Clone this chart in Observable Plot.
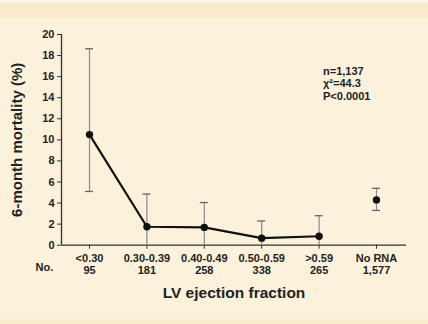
<!DOCTYPE html>
<html>
<head>
<meta charset="utf-8">
<script src="https://cdn.jsdelivr.net/npm/d3@7"></script>
<script src="https://cdn.jsdelivr.net/npm/@observablehq/plot@0.6"></script>
<style>
  html, body { margin: 0; padding: 0; }
  body {
    width: 428px; height: 324px; overflow: hidden;
    background: linear-gradient(to bottom, #fdf5e4 0px, #fdf5e4 3px, #f9ebcb 3px, #f9ebcb 18px, #fcf2dc 18px, #fcf2dc 319px, #f9edcf 319px);
    font-family: "Liberation Sans", Arial, sans-serif;
  }
  svg { display: block; }
</style>
</head>
<body>
<div id="chart"></div>
<script>
const categories = ["<0.30", "0.30-0.39", "0.40-0.49", "0.50-0.59", ">0.59", "No RNA"];
const counts = ["95", "181", "258", "338", "265", "1,577"];
const mortality = [10.5, 1.75, 1.69, 0.67, 0.85, 4.3];
const upper = [18.65, 4.85, 4.05, 2.3, 2.8, 5.4];
const lower = [5.1, 0, 0, 0, 0, 3.3];
const connected = [true, true, true, true, true, false];
const yTicks = [0, 2, 4, 6, 8, 10, 12, 14, 16, 18, 20];
const statsText = ["n=1,137", "χ²=44.3", "P<0.0001"];

const data = categories.map((c, i) => ({
  i, cat: c, n: counts[i], m: mortality[i], hi: upper[i], lo: lower[i], line: connected[i]
}));

const font = "'Liberation Sans', Arial, sans-serif";

const chart = Plot.plot({
  width: 428,
  height: 324,
  marginLeft: 61,
  marginRight: 22,
  marginTop: 34,
  marginBottom: 79.3,
  style: { background: "transparent", fontFamily: font, color: "#222", overflow: "visible" },
  x: { type: "linear", domain: [-0.488, 5.523] },
  y: { domain: [0, 20] },
  marks: [
    // axis lines
    Plot.ruleY([0], { stroke: "#333", strokeWidth: 1.3 }),
    Plot.ruleX([-0.488], { y1: 0, y2: 20, stroke: "#333", strokeWidth: 1.3 }),
    Plot.axisY({
      ticks: yTicks, tickSize: 4, tickPadding: 3, label: null,
      fontSize: 11, fontWeight: "bold", stroke: "#333", fill: "#222"
    }),
    Plot.axisX({
      ticks: d3.range(categories.length),
      tickFormat: (i) => categories[i] + "\n" + counts[i],
      tickSize: 4, tickPadding: 5, label: null,
      fontSize: 11, fontWeight: "bold", lineHeight: 1.05, stroke: "#333", fill: "#222"
    }),
    // error bars
    Plot.ruleX(data, { x: "i", y1: "lo", y2: "hi", stroke: "#8a8a8a", strokeWidth: 1.2 }),
    Plot.ruleY(data, { x1: "i", x2: "i", y: "hi", insetLeft: -4, insetRight: -4, stroke: "#666", strokeWidth: 1.3 }),
    Plot.ruleY(data.filter(d => d.lo > 0), { x1: "i", x2: "i", y: "lo", insetLeft: -4, insetRight: -4, stroke: "#666", strokeWidth: 1.3 }),
    // connecting line
    Plot.line(data.filter(d => d.line), { x: "i", y: "m", stroke: "#111", strokeWidth: 2.2 }),
    Plot.dot(data, { x: "i", y: "m", r: 3.7, fill: "#111", stroke: "none" }),
    // texts
    Plot.text(["No."], { frameAnchor: "bottom-left", dx: -26, dy: 25.5, textAnchor: "start", fontSize: 11, fontWeight: "bold", fill: "#222" }),
    Plot.text(["LV ejection fraction"], { frameAnchor: "bottom", dy: 52.5, fontSize: 15.5, fontWeight: "bold", fill: "#222" }),
    Plot.text(["6-month mortality (%)"], { frameAnchor: "left", dx: -44, rotate: -90, textAnchor: "middle", fontSize: 15, fontWeight: "bold", fill: "#222" }),
    Plot.text([statsText.join("\n")], { frameAnchor: "top-left", dx: 261.5, dy: 31.7, textAnchor: "start", lineAnchor: "top", lineHeight: 1.13, fontSize: 11, fontWeight: "bold", fill: "#222" })
  ]
});
document.getElementById("chart").appendChild(chart);
</script>
</body>
</html>
